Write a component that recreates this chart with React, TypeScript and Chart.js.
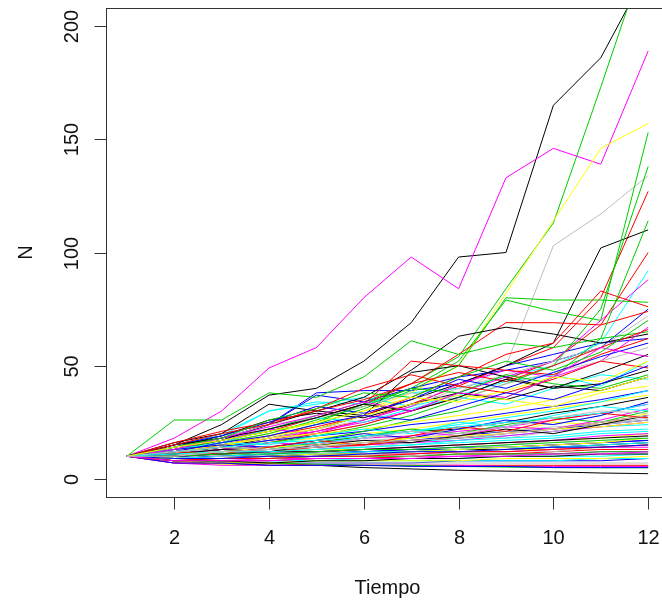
import React, { useEffect, useRef } from "react";
import { Chart, registerables } from "chart.js";

Chart.register(...registerables);

const tiempo = [1, 2, 3, 4, 5, 6, 7, 8, 9, 10, 11, 12];
const xTicks = [2, 4, 6, 8, 10, 12];
const yTicks = [0, 50, 100, 150, 200];

// simulations drawn in R palette colour 1 (black)
const blackRuns = [
  [10, 15, 24, 37, 40, 52, 69, 98, 100, 165, 186, 225],
  [10, 11, 14, 18, 22, 28, 35, 42, 50, 60, 102, 110],
  [10, 8, 7, 6, 6, 5, 4.4, 3.8, 3.4, 3.1, 2.6, 2.3],
  [10, 14, 17, 24, 30, 36, 48, 63, 67, 64, 60, 64],
  [10, 16, 20, 33, 30, 28, 47, 50, 45, 40, 42, 48],
  [10, 14, 19, 26, 29, 27, 33, 38, 35, 41, 39, 45],
  [10, 9, 9, 10, 11, 11, 12, 13, 13, 14, 15, 16],
  [10, 11, 13, 14, 16, 19, 21, 22, 25, 29, 32, 36],
  [10, 8, 8, 7, 8, 8, 9, 9, 10, 10, 11, 11],
  [10, 15, 18, 22, 27, 33, 30, 36, 44, 40, 47, 55],
  [10, 11, 13, 12, 15, 17, 16, 19, 22, 20, 24, 28],
  [10, 10, 11, 12, 12, 13, 14, 15, 16, 17, 18, 19],
];
// colour 2 (red)
const redRuns = [
  [10, 12, 14, 17, 21, 26, 33, 41, 50, 58, 80, 127],
  [10, 11, 13, 16, 20, 24, 30, 36, 44, 52, 68, 100],
  [10, 13, 17, 21, 27, 33, 42, 55, 69, 69, 68, 74],
  [10, 12, 15, 19, 23, 28, 36, 45, 55, 60, 83, 76],
  [10, 13, 16, 22, 27, 33, 52, 50, 48, 46, 55, 62],
  [10, 7, 7, 7, 6, 6, 6, 6, 6, 6, 6, 6],
  [10, 16, 21, 25, 30, 35, 42, 47, 43, 50, 58, 66],
  [10, 11, 11, 12, 14, 15, 17, 18, 20, 22, 25, 28],
  [10, 9, 8, 8, 9, 9, 10, 11, 11, 12, 13, 13],
  [10, 15, 20, 24, 31, 40, 46, 41, 38, 44, 52, 49],
  [10, 12, 11, 14, 17, 15, 19, 23, 21, 26, 29, 27],
  [10, 8, 9, 9, 10, 10, 11, 12, 12, 13, 14, 15],
];
// colour 3 (green3)
const greenRuns = [
  [10, 13, 17, 22, 28, 34, 42, 54, 84, 113, 173, 235],
  [10, 12, 16, 20, 26, 32, 40, 52, 79, 74, 70, 153],
  [10, 12, 15, 19, 24, 31, 39, 50, 80, 79, 79, 78],
  [10, 26, 26, 38, 36, 45, 61, 55, 60, 58, 62, 65],
  [10, 11, 13, 16, 19, 23, 28, 35, 42, 50, 75, 138],
  [10, 10, 12, 14, 17, 21, 26, 30, 36, 45, 62, 114],
  [10, 8, 7.5, 7, 6.5, 6, 6, 5.5, 5.2, 5, 4.9, 4.9],
  [10, 13, 17, 21, 25, 33, 40, 38, 46, 42, 40, 46],
  [10, 12, 14, 13, 16, 19, 22, 20, 24, 27, 25, 30],
  [10, 9, 9, 9, 10, 10, 10, 11, 11, 11, 12, 12],
  [10, 14, 18, 26, 31, 38, 36, 45, 52, 48, 56, 70],
  [10, 10, 11, 11, 12, 13, 13, 14, 15, 16, 17, 18],
];
// colour 4 (blue)
const blueRuns = [
  [10, 14, 18, 24, 38, 39, 39, 42, 50, 55, 60, 62],
  [10, 13, 17, 24, 37, 34, 40, 45, 48, 52, 58, 75],
  [10, 8, 7, 7, 7, 7, 7, 8, 8, 8, 8, 9],
  [10, 12, 14, 17, 19, 21, 24, 26, 29, 32, 35, 39],
  [10, 11, 12, 13, 14, 16, 17, 19, 21, 22, 24, 26],
  [10, 9, 10, 10, 11, 12, 13, 13, 14, 15, 16, 17],
  [10, 15, 19, 25, 32, 29, 35, 44, 40, 47, 54, 60],
  [10, 10, 10, 11, 12, 12, 13, 14, 14, 15, 16, 17],
  [10, 7, 7, 6, 6, 6, 5.5, 5.5, 5.5, 5, 5, 5],
  [10, 13, 15, 14, 17, 20, 18, 22, 26, 24, 28, 34],
  [10, 12, 16, 19, 24, 28, 26, 32, 38, 35, 42, 50],
  [10, 9, 9, 10, 10, 11, 12, 12, 13, 14, 14, 15],
];
// colour 5 (cyan)
const cyanRuns = [
  [10, 14, 20, 30, 34, 33, 38, 40, 45, 50, 60, 92],
  [10, 15, 19, 30, 33, 36, 32, 37, 43, 46, 41, 52],
  [10, 10, 11, 13, 14, 15, 16, 18, 19, 21, 23, 24],
  [10, 8, 8, 8, 8, 9, 9, 9, 10, 10, 10, 11],
  [10, 13, 16, 22, 27, 25, 31, 36, 33, 40, 46, 44],
  [10, 11, 11, 12, 13, 14, 15, 16, 17, 18, 20, 21],
  [10, 9, 8, 8, 8, 8, 8, 8, 8, 8, 9, 9],
  [10, 13, 16, 15, 19, 22, 20, 25, 23, 28, 32, 30],
  [10, 10, 12, 14, 16, 18, 21, 24, 27, 30, 34, 39],
  [10, 9, 10, 11, 11, 12, 12, 13, 14, 14, 15, 16],
  [10, 12, 14, 16, 17, 19, 21, 23, 25, 27, 29, 33],
  [10, 11, 12, 12, 13, 14, 15, 17, 18, 19, 21, 22],
];
// colour 6 (magenta)
const magentaRuns = [
  [10, 18, 30, 49, 58, 80, 98, 84, 133, 146, 139, 189],
  [10, 12, 15, 18, 21, 25, 30, 38, 45, 52, 70, 88],
  [10, 8, 8, 9, 9, 9, 10, 10, 11, 11, 12, 12],
  [10, 14, 17, 22, 20, 26, 32, 42, 48, 45, 52, 67],
  [10, 10, 11, 12, 13, 15, 16, 17, 19, 21, 23, 25],
  [10, 7, 6, 6, 6, 6, 6, 6, 5.5, 5.5, 5.5, 5.5],
  [10, 11, 13, 16, 15, 18, 21, 19, 23, 22, 26, 31],
  [10, 11, 13, 14, 16, 18, 19, 21, 23, 26, 29, 33],
  [10, 9, 9, 9, 10, 11, 11, 12, 12, 13, 14, 14],
  [10, 13, 18, 23, 28, 34, 30, 38, 36, 45, 58, 54],
  [10, 10, 11, 12, 12, 13, 14, 15, 16, 17, 19, 20],
  [10, 8, 8, 8, 9, 9, 9, 10, 10, 11, 11, 12],
];
// colour 7 (yellow)
const yellowRuns = [
  [10, 12, 16, 20, 25, 30, 38, 50, 82, 114, 146, 157],
  [10, 7, 6.5, 6, 6, 6, 5.8, 5.6, 5.5, 5.5, 5.5, 5.6],
  [10, 12, 15, 16, 18, 20, 22, 25, 28, 31, 34, 37],
  [10, 12, 11, 14, 16, 15, 18, 22, 20, 25, 24, 29],
  [10, 9, 10, 10, 10, 11, 11, 12, 13, 13, 14, 15],
  [10, 13, 15, 18, 20, 22, 25, 28, 31, 35, 39, 45],
  [10, 10, 11, 12, 13, 13, 14, 15, 16, 17, 18, 20],
  [10, 8, 7, 7, 8, 8, 8, 8, 9, 9, 9, 10],
  [10, 12, 15, 19, 22, 28, 33, 37, 35, 32, 38, 41],
  [10, 11, 12, 14, 15, 16, 18, 19, 20, 22, 23, 25],
  [10, 9, 9, 10, 11, 11, 12, 13, 14, 15, 16, 18],
  [10, 14, 17, 21, 25, 30, 36, 34, 39, 45, 43, 52],
];
// colour 8 (gray)
const grayRuns = [
  [10, 12, 14, 17, 20, 24, 30, 38, 50, 103, 117, 134],
  [10, 12, 15, 18, 22, 26, 32, 40, 46, 52, 58, 72],
  [10, 10, 10, 11, 11, 12, 12, 13, 13, 14, 14, 15],
  [10, 8, 8, 7, 7, 7, 7, 7, 7, 7, 7, 7],
  [10, 12, 13, 14, 16, 17, 18, 20, 21, 23, 24, 26],
  [10, 14, 18, 24, 27, 32, 38, 35, 42, 47, 52, 58],
  [10, 12, 11, 13, 15, 14, 16, 19, 18, 21, 24, 27],
  [10, 9, 11, 12, 11, 13, 14, 13, 15, 17, 16, 19],
  [10, 13, 12, 14, 17, 19, 18, 22, 25, 24, 28, 34],
  [10, 11, 10, 9, 10, 11, 10, 12, 13, 12, 14, 15],
  [10, 12, 14, 13, 15, 18, 21, 20, 23, 27, 30, 29],
  [10, 10, 12, 13, 14, 16, 17, 18, 20, 22, 25, 28],
];

const runGroups = [blackRuns, redRuns, greenRuns, blueRuns, cyanRuns, magentaRuns, yellowRuns, grayRuns];
const palette = ["#000000", "#FF0000", "#00CD00", "#0000FF", "#00FFFF", "#FF00FF", "#FFFF00", "#BEBEBE"];

const FONT = "'Liberation Sans', Arial, sans-serif";
const W = 680;
const H = 602;

const rAxesPlugin = {
  id: "rAxes",
  beforeDraw(chart: any) {
    const ctx = chart.ctx;
    ctx.save();
    ctx.fillStyle = "#ffffff";
    ctx.fillRect(0, 0, chart.width, chart.height);
    ctx.restore();
  },
  afterDraw(chart: any) {
    const ctx = chart.ctx;
    const { left, right, top, bottom } = chart.chartArea;
    const xs = chart.scales.x;
    const ys = chart.scales.y;
    ctx.save();
    ctx.strokeStyle = "#333333";
    ctx.lineWidth = 1;
    ctx.strokeRect(Math.round(left) + 0.5, Math.round(top) + 0.5, Math.round(right - left), Math.round(bottom - top));
    ctx.fillStyle = "#111111";
    ctx.font = `20px ${FONT}`;
    ctx.textAlign = "center";
    ctx.textBaseline = "middle";
    xTicks.forEach((t) => {
      const px = Math.round(xs.getPixelForValue(t)) + 0.5;
      ctx.beginPath();
      ctx.moveTo(px, Math.round(bottom) + 0.5);
      ctx.lineTo(px, Math.round(bottom) + 12.5);
      ctx.stroke();
      ctx.fillText(String(t), px, bottom + 41);
    });
    yTicks.forEach((v) => {
      const py = Math.round(ys.getPixelForValue(v)) + 0.5;
      ctx.beginPath();
      ctx.moveTo(Math.round(left) + 0.5, py);
      ctx.lineTo(Math.round(left) - 11.5, py);
      ctx.stroke();
      ctx.save();
      ctx.translate(left - 34, py);
      ctx.rotate(-Math.PI / 2);
      ctx.fillText(String(v), 0, 0);
      ctx.restore();
    });
    ctx.fillText("Tiempo", (left + right) / 2, bottom + 91);
    ctx.save();
    ctx.translate(26, (top + bottom) / 2);
    ctx.rotate(-Math.PI / 2);
    ctx.fillText("N", 0, 0);
    ctx.restore();
    ctx.restore();
  },
};

export default function App() {
  const ref = useRef<HTMLCanvasElement | null>(null);
  useEffect(() => {
    if (!ref.current) return;
    const datasets: any[] = [];
    const nRows = Math.max(...runGroups.map((g) => g.length));
    for (let r = 0; r < nRows; r++) {
      runGroups.forEach((g, c) => {
        if (!g[r]) return;
        datasets.push({
          data: g[r].map((v, i) => ({ x: tiempo[i], y: v })),
          borderColor: palette[c],
          borderWidth: 1,
          pointRadius: 0,
          tension: 0,
          fill: false,
        });
      });
    }
    datasets.reverse();
    const chart = new Chart(ref.current, {
      type: "line",
      data: { datasets },
      options: {
        responsive: false,
        animation: false,
        devicePixelRatio: 1,
        layout: { padding: { left: 106, top: 8, right: W - 669, bottom: H - 497 } },
        plugins: { legend: { display: false }, tooltip: { enabled: false } },
        scales: {
          x: { type: "linear", min: 0.56, max: 12.44, display: false },
          y: { type: "linear", min: -8, max: 208, display: false },
        },
      },
      plugins: [rAxesPlugin],
    });
    return () => chart.destroy();
  }, []);
  return (
    <div style={{ position: "fixed", left: 0, top: 0, width: 662, height: 602, overflow: "hidden", background: "#fff" }}>
      <canvas ref={ref} width={W} height={H} style={{ width: W, height: H, display: "block" }} />
    </div>
  );
}
